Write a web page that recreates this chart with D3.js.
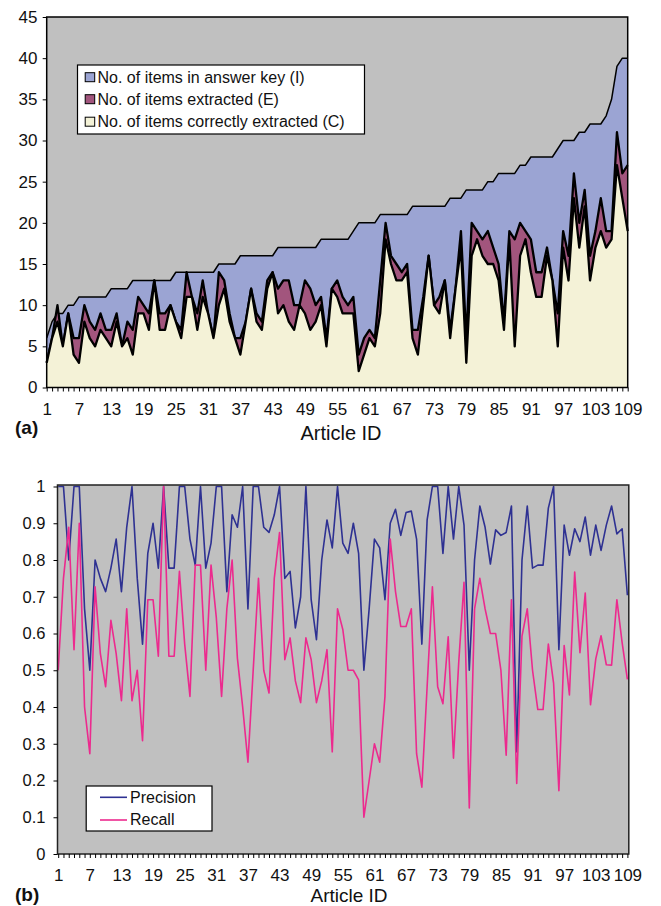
<!DOCTYPE html>
<html><head><meta charset="utf-8">
<script src="https://cdn.jsdelivr.net/npm/d3@7"></script>
<style>
body{margin:0;background:#fff;}
svg{display:block;font-family:"Liberation Sans",Arial,Helvetica,sans-serif;}
</style>
</head><body>
<svg id="c" width="661" height="906"></svg>
<script>
// ---------- DATA ----------
const articleIds = d3.range(1, 110);
const xTickLabels = [1,7,13,19,25,31,37,43,49,55,61,67,73,79,85,91,97,103,109];
const yTicksA = [0,5,10,15,20,25,30,35,40,45];
const yTicksB = [0,0.1,0.2,0.3,0.4,0.5,0.6,0.7,0.8,0.9,1];
const seriesNamesA = ["No. of items in answer key (I)","No. of items extracted (E)","No. of items correctly extracted (C)"];
const seriesNamesB = ["Precision","Recall"];

const answerKey = [6,8,9,9,10,10,11,11,11,11,11,11,12,12,12,12,13,13,13,13,13,13,13,13,14,14,14,14,
  14,14,14,14,15,15,15,15,16,16,16,16,16,16,16,17,17,17,17,17,17,17,17,18,18,18,18,18,
  18,19,20,20,20,20,21,21,21,21,21,21,22,22,22,22,22,22,22,23,23,23,24,24,24,24,25,25,26,
  26,26,26,27,27,28,28,28,28,28,29,30,30,30,31,31,32,32,32,33,35,39,40,40];
const extracted = [3,6,10,5,9,6,6,10,8,7,9,7,7,9,5,8,7,11,10,9,13,9,9,10,8,7,14,11,
  9,13,9,6,14,13,9,6,6,8,12,9,8,13,14,12,13,13,10,10,13,12,10,11,6,12,13,11,
  10,11,4,6,7,6,13,20,16,15,14,15,7,7,11,16,10,11,13,7,12,19,6,20,19,18,19,17,15,
  8,19,18,20,19,18,14,14,17,13,9,19,16,26,20,24,16,19,23,19,19,31,26,27];
const correct = [3,6,8,5,9,4,3,8,6,5,7,6,5,8,5,6,4,9,9,7,13,7,7,10,8,6,11,11,
  7,11,9,6,10,12,8,6,4,8,12,8,7,12,14,9,10,8,7,10,9,7,8,10,5,12,11,9,
  9,9,2,4,6,5,9,18,15,13,13,14,6,4,10,16,10,9,13,6,12,17,3,16,18,16,15,15,13,
  7,18,5,16,18,14,11,11,16,13,5,17,13,23,17,22,13,17,19,17,18,27,23,19];
const precision = [1,1,0.8,1,1,0.667,0.5,0.8,0.75,0.714,0.778,0.857,0.714,0.889,1,0.75,0.571,0.818,0.9,0.778,1,0.778,0.778,1,1,0.857,0.786,1,
  0.778,0.846,1,1,0.714,0.923,0.889,1,0.667,1,1,0.889,0.875,0.923,1,0.75,0.769,0.615,0.7,1,0.692,0.583,0.8,0.909,0.833,1,0.846,0.818,
  0.9,0.818,0.5,0.667,0.857,0.833,0.692,0.9,0.938,0.867,0.929,0.933,0.857,0.571,0.909,1,1,0.818,1,0.857,1,0.895,0.5,0.8,0.947,0.889,0.789,0.882,0.867,
  0.875,0.947,0.278,0.8,0.947,0.778,0.786,0.786,0.941,1,0.556,0.895,0.813,0.885,0.85,0.917,0.813,0.895,0.826,0.895,0.947,0.871,0.885,0.704];
const recall = [0.5,0.75,0.889,0.556,0.9,0.4,0.273,0.727,0.545,0.455,0.636,0.545,0.417,0.667,0.417,0.5,0.308,0.692,0.692,0.538,1,0.538,0.538,0.769,0.571,0.429,0.786,0.786,
  0.5,0.786,0.643,0.429,0.667,0.8,0.533,0.4,0.25,0.5,0.75,0.5,0.438,0.75,0.875,0.529,0.588,0.471,0.412,0.588,0.529,0.412,0.471,0.556,0.278,0.667,0.611,0.5,
  0.5,0.474,0.1,0.2,0.3,0.25,0.429,0.857,0.714,0.619,0.619,0.667,0.273,0.182,0.455,0.727,0.455,0.409,0.591,0.261,0.522,0.739,0.125,0.667,0.75,0.667,0.6,0.6,0.5,
  0.269,0.692,0.192,0.593,0.667,0.5,0.393,0.393,0.571,0.464,0.172,0.567,0.433,0.767,0.548,0.71,0.406,0.531,0.594,0.515,0.514,0.692,0.575,0.475];

// ---------- STYLE ----------
const FONT = '"Liberation Sans",Arial,Helvetica,sans-serif';
const plotBg = '#c0c0c0';
const fillsA = ['#9ba4d3', '#a2557d', '#f4f2d7'];
const strokeWA = [1.5, 2.3, 2.3];
const colorsB = ['#2e3192', '#ec2a8e'];

const svg = d3.select('#c');

// ================= CHART (a) =================
const A = {left: 46.7, right: 627.7, top: 17, bottom: 387.5};
const xA = d3.scaleLinear().domain([1, 109]).range([A.left, A.right]);
const yA = d3.scaleLinear().domain([0, 45]).range([A.bottom, A.top]);

svg.append('rect').attr('x', A.left).attr('y', A.top)
  .attr('width', A.right - A.left).attr('height', A.bottom - A.top).attr('fill', plotBg);

const seriesA = [answerKey, extracted, correct];
seriesA.forEach((vals, k) => {
  const area = d3.area().x((d, i) => xA(articleIds[i])).y0(yA(0)).y1(d => yA(d));
  const line = d3.line().x((d, i) => xA(articleIds[i])).y(d => yA(d));
  svg.append('path').datum(vals).attr('d', area).attr('fill', fillsA[k]);
  svg.append('path').datum(vals).attr('d', line).attr('fill', 'none')
    .attr('stroke', '#000').attr('stroke-width', strokeWA[k]).attr('stroke-linejoin', 'round');
});

svg.append('rect').attr('x', A.left).attr('y', A.top)
  .attr('width', A.right - A.left).attr('height', A.bottom - A.top)
  .attr('fill', 'none').attr('stroke', '#000').attr('stroke-width', 1.5);

const gxA = svg.append('g').attr('transform', `translate(0,${A.bottom})`)
  .call(d3.axisBottom(xA).tickValues(articleIds).tickSize(4).tickPadding(11.5)
    .tickFormat(d => xTickLabels.includes(d) ? d : ''));
gxA.select('.domain').remove();
gxA.attr('font-size', 17).attr('font-family', FONT);
gxA.selectAll('line').attr('stroke', '#000').attr('stroke-width', 1);
gxA.selectAll('text').attr('fill', '#111');

const gyA = svg.append('g').attr('transform', `translate(${A.left},0)`)
  .call(d3.axisLeft(yA).tickValues(yTicksA).tickSize(4).tickPadding(5.2));
gyA.select('.domain').remove();
gyA.attr('font-size', 17).attr('font-family', FONT);
gyA.selectAll('line').attr('stroke', '#000');
gyA.selectAll('text').attr('fill', '#111');

// legend (a)
const legA = svg.append('g');
legA.append('rect').attr('x', 77.5).attr('y', 65).attr('width', 287).attr('height', 69)
  .attr('fill', '#fff').attr('stroke', '#000').attr('stroke-width', 1.2);
[82.5, 104.5, 127].forEach((by, k) => {
  legA.append('rect').attr('x', 85.2).attr('y', by - 9.8).attr('width', 9.5).attr('height', 9)
    .attr('fill', fillsA[k]).attr('stroke', '#000').attr('stroke-width', 1);
  legA.append('text').attr('x', 97.5).attr('y', by).attr('font-size', 16).attr('fill', '#111')
    .text(seriesNamesA[k]);
});

svg.append('text').attr('x', 15).attr('y', 434).attr('font-size', 19).attr('font-weight', 'bold')
  .attr('fill', '#111').text('(a)');
svg.append('text').attr('x', 341).attr('y', 440).attr('text-anchor', 'middle').attr('font-size', 20)
  .attr('fill', '#111').text('Article ID');

// ================= CHART (b) =================
const B = {left: 57.5, right: 628.8, top: 485, bottom: 854};
const xB = d3.scaleLinear().domain([1, 109]).range([58.2, 627.4]);
const yB = d3.scaleLinear().domain([0, 1]).range([B.bottom, 486.5]);

svg.append('rect').attr('x', B.left).attr('y', B.top)
  .attr('width', B.right - B.left).attr('height', B.bottom - B.top).attr('fill', plotBg);

[precision, recall].forEach((vals, k) => {
  const line = d3.line().x((d, i) => xB(articleIds[i])).y(d => yB(d));
  svg.append('path').datum(vals).attr('d', line).attr('fill', 'none')
    .attr('stroke', colorsB[k]).attr('stroke-width', 1.6).attr('stroke-linejoin', 'round');
});

svg.append('rect').attr('x', B.left).attr('y', B.top)
  .attr('width', B.right - B.left).attr('height', B.bottom - B.top)
  .attr('fill', 'none').attr('stroke', '#222').attr('stroke-width', 1.5);

const gxB = svg.append('g').attr('transform', `translate(0,${B.bottom})`)
  .call(d3.axisBottom(xB).tickValues(articleIds).tickSize(4).tickPadding(10.8)
    .tickFormat(d => xTickLabels.includes(d) ? d : ''));
gxB.select('.domain').remove();
gxB.attr('font-size', 17).attr('font-family', FONT);
gxB.selectAll('line').attr('stroke', '#000');
gxB.selectAll('text').attr('fill', '#111');

const gyB = svg.append('g').attr('transform', `translate(${B.left},0)`)
  .call(d3.axisLeft(yB).tickValues(yTicksB).tickSize(4).tickPadding(8)
    .tickFormat(d => d3.format('')(+d.toFixed(1))));
gyB.select('.domain').remove();
gyB.attr('font-size', 16.5).attr('font-family', FONT);
gyB.selectAll('line').attr('stroke', '#000');
gyB.selectAll('text').attr('fill', '#111');

// legend (b)
const legB = svg.append('g');
legB.append('rect').attr('x', 86.2).attr('y', 786).attr('width', 125.8).attr('height', 45)
  .attr('fill', '#fff').attr('stroke', '#000').attr('stroke-width', 1.2);
[[797.3, 803], [820, 825]].forEach(([ly, ty], k) => {
  legB.append('line').attr('x1', 100).attr('x2', 127).attr('y1', ly).attr('y2', ly)
    .attr('stroke', colorsB[k]).attr('stroke-width', 1.6);
  legB.append('text').attr('x', 130).attr('y', ty).attr('font-size', 16).attr('fill', '#111')
    .text(seriesNamesB[k]);
});

svg.append('text').attr('x', 15).attr('y', 900.5).attr('font-size', 19).attr('font-weight', 'bold')
  .attr('fill', '#111').text('(b)');
svg.append('text').attr('x', 349).attr('y', 902).attr('text-anchor', 'middle').attr('font-size', 19)
  .attr('fill', '#111').text('Article ID');
</script>
</body></html>
